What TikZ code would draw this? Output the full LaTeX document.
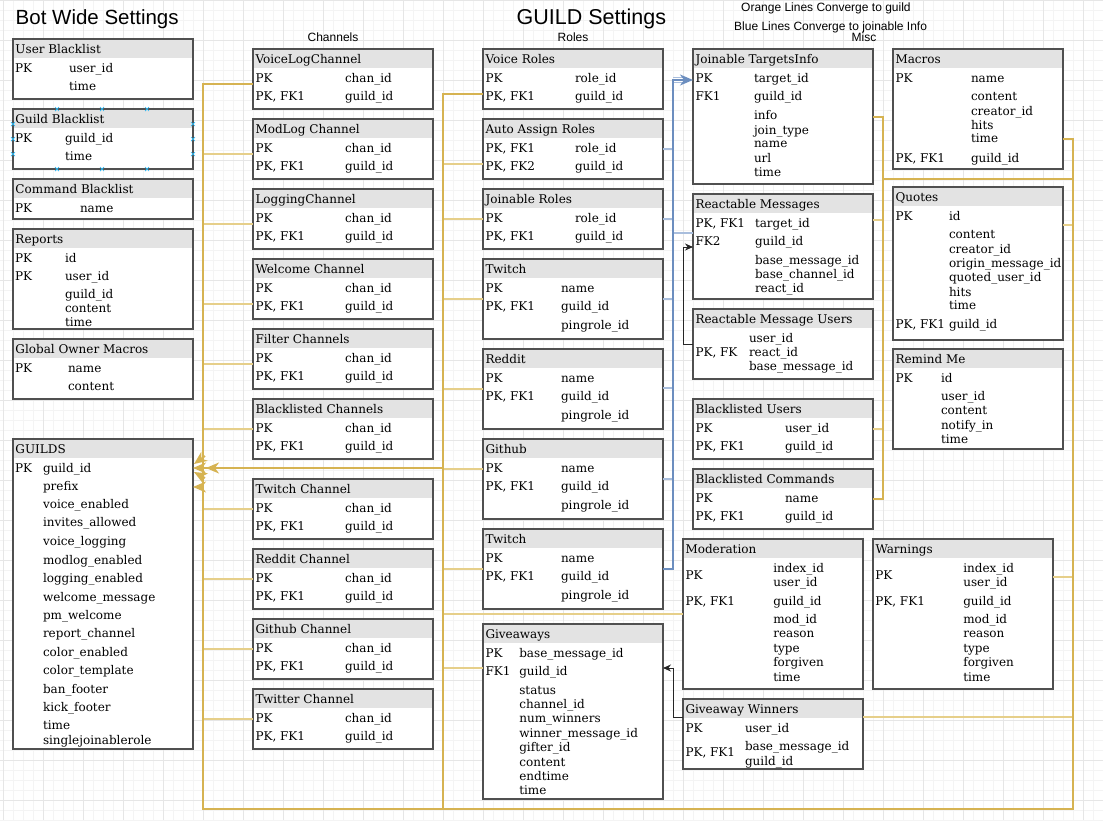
\documentclass[tikz,border=0pt]{standalone}
\usepackage{fontspec}
\setmainfont{DejaVu Serif}
\newfontfamily\sansf{Liberation Sans}
\usetikzlibrary{arrows.meta}
\definecolor{hdrgray}{HTML}{E3E3E3}
\definecolor{bordergray}{HTML}{505050}
\definecolor{orangeln}{HTML}{D6B352}
\definecolor{orangelt}{HTML}{E6CF8A}
\definecolor{blueln}{HTML}{6C8EBF}
\definecolor{bluelt}{HTML}{A9BEDD}
\definecolor{gridminor}{HTML}{F4F4F4}
\definecolor{gridmajor}{HTML}{E6E6E6}
\definecolor{selblue}{HTML}{29B6F2}
\newcommand\tfs{\fontsize{12}{14}\selectfont}
\newcounter{fldc}
\newcommand\tb[6]{%
  \node[tblbox, minimum width=#4pt, minimum height=#5pt, anchor=north west] (#1) at (#2,#3) {};
  \fill[hdrgray] (#2,#3) rectangle ++(#4,18.5);
  \draw[tblline] (#1.north west) rectangle (#1.south east);
  \node[fldtxt] (#1-h) at (#2+2.5,#3+14.3) {#6};
}
\newcommand\ft[3]{\stepcounter{fldc}\node[fldtxt] (f\arabic{fldc}) at (#1,#2+4.8) {#3};}
\newcommand\chan[3]{\tb{#1}{253}{#2}{180}{60}{#3}%
  \ft{255.5}{#2+28.5}{PK}\ft{345}{#2+28.5}{chan\_id}\ft{255.5}{#2+46.5}{PK, FK1}\ft{345}{#2+46.5}{guild\_id}}
\newcommand\rolet[7]{\tb{#1}{483}{#2}{180}{60}{#3}%
  \ft{485.5}{#2+28.5}{#4}\ft{575}{#2+28.5}{#5}\ft{485.5}{#2+46.5}{#6}\ft{575}{#2+46.5}{#7}}
\newcommand\feed[3]{\tb{#1}{483}{#2}{180}{80}{#3}%
  \ft{485.5}{#2+28.7}{PK}\ft{561}{#2+28.7}{name}\ft{485.5}{#2+46.4}{PK, FK1}\ft{561}{#2+46.4}{guild\_id}\ft{561}{#2+65.4}{pingrole\_id}}
\newcommand\modrows[2]{\ft{#1}{574.3}{PK}\ft{#2}{567.3}{index\_id}\ft{#2}{581.7}{user\_id}\ft{#1}{600.7}{PK, FK1}\ft{#2}{600.7}{guild\_id}\ft{#2}{618.3}{mod\_id}\ft{#2}{632.7}{reason}\ft{#2}{647.7}{type}\ft{#2}{661.7}{forgiven}\ft{#2}{676.7}{time}}
\begin{document}
\begin{tikzpicture}[x=1pt,y=-1pt,
  tblbox/.style={fill=white, draw=none, inner sep=0pt, outer sep=0pt},
  tblline/.style={draw=bordergray, line width=1.4pt},
  fldtxt/.style={anchor=base west, inner sep=0pt, outer sep=0pt, font=\tfs},
  ttl/.style={inner sep=0pt, font=\sansf\fontsize{12}{14}\selectfont},
  omain/.style={draw=orangeln, line width=1.8pt},
  ostub/.style={draw=orangelt, line width=1.1pt},
  bmain/.style={draw=blueln, line width=1.6pt},
  bstub/.style={draw=bluelt, line width=1.1pt},
  oarr/.style={-{Stealth[length=13pt,width=11pt,inset=4pt,fill=orangeln]}},
  blk/.style={draw=black!85, line width=0.9pt, -{Stealth[length=8pt,width=7pt]}},
  sel/.style={draw=selblue, line width=0.7pt}]
\useasboundingbox (0,0) rectangle (1103,820);
\fill[white] (0,0) rectangle (1103,820);
% grid
\foreach \i in {0,...,110} {\draw[gridminor, line width=0.5pt] (\i*10+3,0) -- (\i*10+3,820);}
\foreach \j in {0,...,82} {\draw[gridminor, line width=0.5pt] (0,\j*10) -- (1103,\j*10);}
\foreach \i in {0,...,27} {\draw[gridmajor, line width=0.6pt] (\i*40+3,0) -- (\i*40+3,820);}
\foreach \j in {0,...,20} {\draw[gridmajor, line width=0.6pt] (0,\j*40) -- (1103,\j*40);}
% titles
\node[ttl, anchor=base west, font=\sansf\fontsize{20.5}{24}\selectfont] (title1) at (15.5,24) {Bot Wide Settings};
\node[ttl, anchor=base west, font=\sansf\fontsize{21.5}{24}\selectfont] (title2) at (516.5,24) {GUILD Settings};
\node[ttl, anchor=base] (chlab) at (333,41.7) {Channels};
\node[ttl, anchor=base] (rolab) at (573,41.7) {Roles};
\node[ttl, anchor=base] (misclab) at (864,41.7) {Misc};
\node[ttl, anchor=base west] (note1) at (741,11.7) {Orange Lines Converge to guild};
\node[ttl, anchor=base west] (note2) at (734,30) {Blue Lines Converge to joinable Info};
% ---------- column 1
\tb{ub}{13}{39}{180}{60}{User Blacklist}
\ft{15}{67.5}{PK}\ft{69}{67.5}{user\_id}\ft{69}{85.5}{time}
\tb{gb}{13}{109}{180}{60}{Guild Blacklist}
\ft{15}{137.5}{PK}\ft{65}{137.5}{guild\_id}\ft{65}{155.5}{time}
\tb{cb}{13}{179}{180}{40}{Command Blacklist}
\ft{15}{207.5}{PK}\ft{80}{207.5}{name}
\tb{rp}{13}{229}{180}{100}{Reports}
\ft{15}{257.3}{PK}\ft{65}{257.3}{id}\ft{15}{275.5}{PK}\ft{65}{275.5}{user\_id}\ft{65}{293.7}{guild\_id}\ft{65}{308}{content}\ft{65}{322}{time}
\tb{gom}{13}{339}{180}{60}{Global Owner Macros}
\ft{15}{367.5}{PK}\ft{68}{367.5}{name}\ft{68}{385.5}{content}
\tb{guilds}{13}{439}{180}{310}{GUILDS}
\ft{15}{467.3}{PK}\ft{43}{467.3}{guild\_id}
\foreach \t/\y in {prefix/485.8, voice\_enabled/504, invites\_allowed/522, voice\_logging/540.7, modlog\_enabled/559.3, logging\_enabled/577.7, welcome\_message/596.7, pm\_welcome/614.7, report\_channel/632.7, color\_enabled/651.3, color\_template/669.7, ban\_footer/688.7, kick\_footer/706.7, time/724.7, singlejoinablerole/739.7} {\ft{43}{\y}{\t}}
% selection handles on Guild Blacklist
\foreach \x in {57,102,147} {\foreach \y in {109,169} {\draw[sel] (\x-2,\y-2) -- (\x+2,\y+2) (\x-2,\y+2) -- (\x+2,\y-2);}}
\foreach \y in {124,139,154} {\foreach \x in {13,193} {\draw[sel] (\x-2,\y-2) -- (\x+2,\y+2) (\x-2,\y+2) -- (\x+2,\y-2);}}
% ---------- column 2 channels
\chan{vlc}{49}{VoiceLogChannel}
\chan{mlc}{119}{ModLog Channel}
\chan{lgc}{189}{LoggingChannel}
\chan{wlc}{259}{Welcome Channel}
\chan{flc}{329}{Filter Channels}
\chan{blc}{399}{Blacklisted Channels}
\chan{twc}{479}{Twitch Channel}
\chan{rdc}{549}{Reddit Channel}
\chan{ghc}{619}{Github Channel}
\chan{ttc}{689}{Twitter Channel}
% ---------- column 3 roles
\rolet{vr}{49}{Voice Roles}{PK}{role\_id}{PK, FK1}{guild\_id}
\rolet{aar}{119}{Auto Assign Roles}{PK, FK1}{role\_id}{PK, FK2}{guild\_id}
\rolet{jr}{189}{Joinable Roles}{PK}{role\_id}{PK, FK1}{guild\_id}
\feed{tw}{259}{Twitch}
\feed{rd}{349}{Reddit}
\feed{gh}{439}{Github}
\feed{tw2}{529}{Twitch}
\tb{gv}{483}{624}{180}{175}{Giveaways}
\ft{485.5}{652.7}{PK}\ft{519.3}{652.7}{base\_message\_id}\ft{485.5}{670.5}{FK1}\ft{519.3}{670.5}{guild\_id}
\foreach \t/\y in {status/689.7, channel\_id/703.3, num\_winners/718, winner\_message\_id/732.7, gifter\_id/746.7, content/761.3, endtime/775.3, time/789.5} {\ft{519.3}{\y}{\t}}
% ---------- column 4
\tb{jti}{693}{49}{180}{135}{Joinable TargetsInfo}
\ft{695.5}{77.7}{PK}\ft{754}{77.7}{target\_id}\ft{695.5}{96}{FK1}\ft{754}{96}{guild\_id}
\foreach \t/\y in {info/114.7, join\_type/129.3, name/143, url/157.7, time/171.3} {\ft{754}{\y}{\t}}
\tb{rm}{693}{194}{180}{105}{Reactable Messages}
\ft{695.5}{222.3}{PK, FK1}\ft{755}{222.3}{target\_id}\ft{695.5}{240.7}{FK2}\ft{755}{240.7}{guild\_id}
\foreach \t/\y in {base\_message\_id/260, base\_channel\_id/273.3, react\_id/287.3} {\ft{755}{\y}{\t}}
\tb{rmu}{693}{309}{180}{70}{Reactable Message Users}
\ft{749}{337.3}{user\_id}\ft{695.5}{351.7}{PK, FK}\ft{749}{351.7}{react\_id}\ft{749}{366}{base\_message\_id}
\tb{bu}{693}{399}{180}{60}{Blacklisted Users}
\ft{695.5}{427.7}{PK}\ft{785}{427.7}{user\_id}\ft{695.5}{445.7}{PK, FK1}\ft{785}{445.7}{guild\_id}
\tb{bcm}{693}{469}{180}{60}{Blacklisted Commands}
\ft{695.5}{497.7}{PK}\ft{785}{497.7}{name}\ft{695.5}{515.3}{PK, FK1}\ft{785}{515.3}{guild\_id}
\tb{mod}{683}{539}{180}{150}{Moderation}
\modrows{685.5}{773.3}
\tb{wr}{873}{539}{180}{150}{Warnings}
\modrows{875.3}{963.3}
\tb{gw}{683}{699}{180}{70}{Giveaway Winners}
\ft{685.5}{727.7}{PK}\ft{745}{727.7}{user\_id}\ft{685.5}{751.7}{PK, FK1}\ft{745}{746}{base\_message\_id}\ft{745}{760.7}{guild\_id}
% ---------- column 5
\tb{mac}{893}{49}{170}{120}{Macros}
\ft{895.5}{77.7}{PK}\ft{971}{77.7}{name}
\foreach \t/\y in {content/95.7, creator\_id/110.3, hits/124.3, time/138} {\ft{971}{\y}{\t}}
\ft{895.5}{157.3}{PK, FK1}\ft{971}{157.3}{guild\_id}
\tb{qt}{893}{187}{170}{153}{Quotes}
\ft{895.5}{215.7}{PK}\ft{949}{215.7}{id}
\foreach \t/\y in {content/233.3, creator\_id/248.3, origin\_message\_id/262.7, quoted\_user\_id/276.7, hits/291.3, time/304.7} {\ft{949}{\y}{\t}}
\ft{895.5}{324}{PK, FK1}\ft{949}{324}{guild\_id}
\tb{rmd}{893}{349}{170}{100}{Remind Me}
\ft{895.5}{377.3}{PK}\ft{941}{377.3}{id}
\foreach \t/\y in {user\_id/395.7, content/410, notify\_in/424.3, time/438.3} {\ft{941}{\y}{\t}}
% ---------- bus coordinates
\coordinate (bA) at (203,809);
\coordinate (bB) at (443,809);
\coordinate (bC) at (883,499);
\coordinate (bD) at (1073,809);
\coordinate (bE) at (673,80);
% ---------- orange connectors
\foreach \n/\y in {mlc/154, lgc/224, wlc/304, flc/364, blc/429, twc/509, rdc/579, ghc/649, ttc/719}
  {\draw[ostub] (\n.west |- 0,\y) -- (bA |- 0,\y);}
\foreach \n/\y in {aar/164, jr/219, tw/299, rd/389, gh/469, tw2/569, gv/668}
  {\draw[ostub] (\n.west |- 0,\y) -- (bB |- 0,\y);}
\draw[ostub] (mod.west |- 0,614) -- (bB |- 0,614);
\foreach \n/\y in {rm/220, bu/429}
  {\draw[ostub] (\n.east |- 0,\y) -- (bC |- 0,\y);}
\foreach \n/\y in {qt/225, wr/577, gw/717}
  {\draw[ostub] (\n.east |- 0,\y) -- (bD |- 0,\y);}
\draw[omain] (vlc.west |- 0,84) -| (bA) -- (bD) |- (mac.east |- 0,139);
\draw[omain] (vr.west |- 0,94) -| (bB);
\draw[omain] (jti.east |- 0,117) -| (bC) -- (bcm.east |- 0,499);
\draw[omain] (bC |- 0,179) -- (bD |- 0,179);
\draw[omain, oarr] (bB |- 0,468) -- (guilds.east |- 0,468);
\draw[omain, oarr] (bB |- 0,468) -- ([xshift=13pt]guilds.east |- 0,468);
\draw[omain, oarr] ([xshift=12pt]guilds.east |- 0,456) -- ([xshift=1pt]guilds.east |- 0,464);
\draw[omain, oarr] ([xshift=12pt]guilds.east |- 0,478) -- ([xshift=1pt]guilds.east |- 0,472);
\draw[omain, oarr] (bA |- 0,487) -- (guilds.east |- 0,487);
% ---------- blue connectors
\foreach \n/\y in {aar/149, jr/219, tw/299, rd/388, gh/479}
  {\draw[bstub] (\n.east |- 0,\y) -- (bE |- 0,\y);}
\draw[bstub] (rm.west |- 0,233) -- (bE |- 0,233);
\draw[bstub] (bE |- 0,77.3) -- ([xshift=-8pt]jti.west |- 0,77.3);
\draw[bstub] (bE |- 0,82.7) -- ([xshift=-8pt]jti.west |- 0,82.7);
\draw[bmain, -{Stealth[length=13pt,width=11pt,inset=4pt,fill=blueln]}] (tw2.east |- 0,569) -| (bE) -- (jti.west |- bE);
% ---------- black connectors
\draw[blk] (rmu.west |- 0,344) -- (683,344) |- (rm.west |- 0,247);
\draw[blk] (gw.west |- 0,717) -- (673,717) |- (gv.east |- 0,668);
\end{tikzpicture}
\end{document}
